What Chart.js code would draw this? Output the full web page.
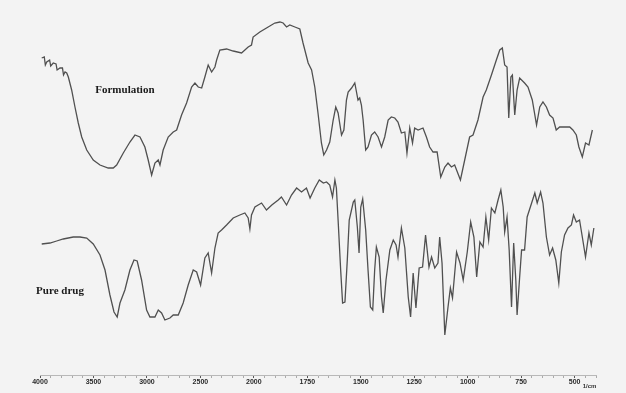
<!DOCTYPE html>
<html>
<head>
<meta charset="utf-8">
<title>FTIR spectra</title>
<script src="https://cdn.jsdelivr.net/npm/chart.js@4.4.1/dist/chart.umd.min.js"></script>
<style>
  html, body { margin: 0; padding: 0; background: #f3f3f3; }
  canvas { display: block; }
</style>
</head>
<body>
<canvas id="ir" width="626" height="393"></canvas>
<script>
// Wavenumbers (cm-1) and transmittance (arbitrary units, traces offset vertically)
const formulationWn = [3984,3960,3950,3937,3910,3900,3876,3850,3840,3813,3790,3780,3766,3750,3735,3704,3673,3642,3610,3563,3502,3439,3362,3315,3283,3221,3159,3112,3065,3019,2988,2956,2925,2894,2878,2848,2801,2754,2722,2676,2629,2582,2551,2520,2488,2458,2427,2395,2364,2348,2318,2255,2193,2115,2053,2022,2007,1972,1933,1902,1878,1863,1847,1832,1808,1785,1770,1746,1730,1715,1700,1684,1673,1660,1645,1629,1617,1606,1590,1579,1567,1559,1543,1528,1520,1513,1505,1497,1489,1477,1466,1450,1435,1419,1403,1388,1372,1357,1341,1326,1310,1294,1284,1271,1258,1248,1232,1209,1193,1178,1162,1143,1126,1107,1092,1076,1061,1034,1014,991,975,952,928,913,889,866,850,838,827,816,808,798,791,780,769,757,734,718,698,678,663,648,632,617,601,586,570,547,523,508,492,480,464,449,433,417];
const formulationT = [317,318,310,313,315,309,312,311,305,307,307,300,303,302,298,285,268,252,238,225,215,210,207,207,210,222,233,240,238,228,215,200,212,215,210,225,238,243,245,260,272,288,292,288,287,298,310,303,308,315,325,326,324,322,328,330,338,343,348,352,353,352,348,350,348,346,332,312,305,288,262,232,220,225,233,255,268,262,240,245,275,283,287,292,283,275,277,270,255,225,228,240,243,238,228,238,255,258,257,253,242,243,222,247,232,247,245,247,238,228,223,223,198,208,212,208,210,195,215,238,240,255,278,285,300,315,325,327,310,308,257,298,300,260,285,297,292,288,275,250,268,273,268,260,257,245,248,248,248,245,240,228,218,232,230,245];

const pureDrugWn = [3984,3907,3844,3782,3689,3626,3563,3502,3439,3392,3346,3308,3278,3252,3206,3159,3121,3091,3050,3003,2972,2925,2894,2863,2832,2785,2754,2707,2661,2614,2567,2535,2498,2458,2427,2395,2364,2334,2302,2255,2193,2131,2084,2053,2037,2022,1995,1964,1941,1916,1886,1871,1847,1824,1800,1777,1754,1737,1715,1694,1675,1660,1645,1632,1621,1614,1606,1594,1585,1574,1563,1554,1535,1528,1516,1508,1500,1491,1477,1466,1455,1444,1435,1427,1414,1403,1395,1382,1364,1348,1335,1326,1310,1294,1278,1267,1255,1242,1227,1211,1197,1181,1169,1154,1139,1131,1120,1107,1092,1081,1071,1052,1036,1021,1002,986,971,958,943,928,915,902,889,873,858,845,834,827,816,806,795,785,775,769,757,748,734,722,701,686,675,659,648,632,617,603,588,574,562,547,531,515,505,492,477,464,449,433,422,410];
const pureDrugT = [131,132,134,136,138,138,137,131,120,105,80,63,58,72,85,105,115,114,95,65,58,58,65,62,55,57,60,60,72,90,105,103,90,117,122,102,127,142,145,150,157,160,162,157,146,160,168,172,165,170,175,178,170,180,187,183,187,177,187,195,192,193,190,178,195,187,155,105,72,73,115,155,173,175,148,122,168,176,145,105,68,65,105,128,118,78,62,95,125,135,130,118,147,127,78,58,102,67,107,108,140,108,118,107,112,138,112,40,68,87,77,123,112,95,123,153,138,98,133,128,158,135,167,162,175,185,168,143,158,125,68,132,95,60,98,125,125,158,172,182,172,183,172,138,120,127,115,92,123,140,147,150,160,153,155,138,118,142,130,147];

// Axis labels (cm-1); below 2000 the chart uses an expanded scale
const labelledWn = [4000,3500,3000,2500,2000,1750,1500,1250,1000,750,500];
const axisMinWn = 4000;
const axisMaxWn = 400;

// Position along the axis: 500 cm-1 per unit above 2000, 250 cm-1 per unit below
function toPos(wn) {
  return wn >= 2000 ? (4000 - wn) / 500 : 4 + (2000 - wn) / 250;
}
function toWn(pos) {
  return pos <= 4 ? 4000 - pos * 500 : 2000 - (pos - 4) * 250;
}
function series(wn, t) {
  return wn.map((w, i) => ({ x: toPos(w), y: t[i] }));
}

// Minor ticks every 100 above 2000 and every 50 below
const tickWn = [];
for (let w = 4000; w > 2000; w -= 100) tickWn.push(w);
for (let w = 2000; w >= 400; w -= 50) tickWn.push(w);

const lineStyle = {
  borderColor: '#505050',
  borderWidth: 1.3,
  pointRadius: 0,
  tension: 0,
  fill: false
};

const traceLabels = {
  id: 'traceLabels',
  afterDatasetsDraw(chart) {
    const { ctx, scales: { x, y } } = chart;
    ctx.save();
    ctx.fillStyle = '#1a1a1a';
    ctx.textAlign = 'center';
    ctx.textBaseline = 'middle';
    ctx.font = 'bold 11px "Liberation Serif", "DejaVu Serif", serif';
    ctx.fillText('Formulation', x.getPixelForValue(toPos(3206)), y.getPixelForValue(285));
    ctx.fillText('Pure drug', x.getPixelForValue(toPos(3813)), y.getPixelForValue(84));
    ctx.font = 'bold 6px "Liberation Sans", Arial, sans-serif';
    ctx.fillStyle = '#333';
    ctx.fillText('1/cm', x.getPixelForValue(toPos(430)), y.bottom + 11);
    ctx.restore();
  }
};

new Chart(document.getElementById('ir'), {
  type: 'line',
  data: {
    datasets: [
      Object.assign({ label: 'Formulation', data: series(formulationWn, formulationT) }, lineStyle),
      Object.assign({ label: 'Pure drug', data: series(pureDrugWn, pureDrugT) }, lineStyle)
    ]
  },
  options: {
    responsive: false,
    animation: false,
    devicePixelRatio: 1,
    layout: { padding: { left: 40, right: 30, top: 0, bottom: 0 } },
    plugins: { legend: { display: false }, tooltip: { enabled: false } },
    scales: {
      x: {
        type: 'linear',
        min: toPos(axisMinWn),
        max: toPos(axisMaxWn),
        afterBuildTicks(scale) {
          scale.ticks = tickWn.map(w => ({ value: toPos(w) }));
        },
        afterFit(scale) { scale.height = 18; },
        ticks: {
          autoSkip: false,
          maxRotation: 0,
          padding: 0,
          color: '#2a2a2a',
          font: { size: 7, weight: 'bold', family: '"Liberation Sans", Arial, sans-serif' },
          callback(value) {
            const w = Math.round(toWn(value));
            return labelledWn.includes(w) ? String(w) : '';
          }
        },
        grid: {
          drawOnChartArea: false,
          drawTicks: true,
          tickLength: 3,
          color: ctx => {
            const w = Math.round(toWn(ctx.tick.value));
            return labelledWn.includes(w) ? '#555' : '#aaa';
          },
          lineWidth: 1
        },
        border: { display: true, color: '#b8b8b8', width: 1, dash: [3, 2] }
      },
      y: {
        display: false,
        min: 0,
        max: 375
      }
    }
  },
  plugins: [traceLabels]
});
</script>
</body>
</html>
